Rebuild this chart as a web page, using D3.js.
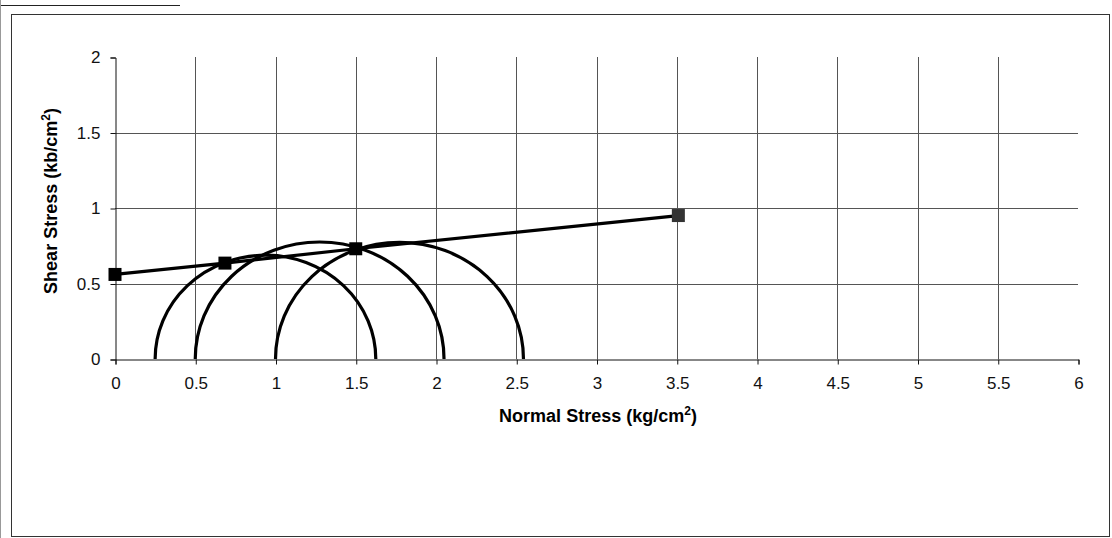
<!DOCTYPE html>
<html>
<head>
<meta charset="utf-8">
<script src="https://cdn.jsdelivr.net/npm/d3@7"></script>
<style>
  html, body { margin: 0; padding: 0; background: #fff; }
  svg { display: block; font-family: Arial, "Liberation Sans", sans-serif; }
</style>
</head>
<body>
<svg id="chart" width="1112" height="538"></svg>
<script>
// Failure envelope (normal stress, shear stress)
const envelopeSigma = [0, 0.685, 1.5, 3.51];
const envelopeTau = [0.56, 0.635, 0.73, 0.95];

// Mohr circles: minor and major principal stresses
const sigma3 = [0.25, 0.5, 1.0];
const sigma1 = [1.625, 2.05, 2.545];

// Axis ticks
const xTicks = [0, 0.5, 1, 1.5, 2, 2.5, 3, 3.5, 4, 4.5, 5, 5.5, 6];
const yTicks = [0, 0.5, 1, 1.5, 2];
const xTickLabels = ["0", "0.5", "1", "1.5", "2", "2.5", "3", "3.5", "4", "4.5", "5", "5.5", "6"];
const yTickLabels = ["0", "0.5", "1", "1.5", "2"];

const svg = d3.select("#chart");

const plotLeft = 115, plotRight = 1078, plotTop = 57, plotBottom = 359;
const x = d3.scaleLinear().domain([0, 6]).range([plotLeft, plotRight]);
const y = d3.scaleLinear().domain([0, 2]).range([plotBottom, plotTop]);

// Page frame
svg.append("line").attr("x1", 0).attr("x2", 180).attr("y1", 5.5).attr("y2", 5.5)
  .attr("stroke", "#222").attr("stroke-width", 1);
svg.append("line").attr("x1", 0.5).attr("x2", 0.5).attr("y1", 0).attr("y2", 538)
  .attr("stroke", "#999").attr("stroke-width", 1);
svg.append("rect").attr("x", 11.5).attr("y", 14.5).attr("width", 1098).attr("height", 522)
  .attr("fill", "none").attr("stroke", "#333").attr("stroke-width", 1);

// Gridlines
const grid = svg.append("g").attr("stroke", "#555").attr("stroke-width", 1);
grid.selectAll("line.h").data(yTicks.filter(v => v > 0 && v < 2)).enter().append("line")
  .attr("x1", plotLeft).attr("x2", plotRight)
  .attr("y1", d => Math.round(y(d)) + 0.5).attr("y2", d => Math.round(y(d)) + 0.5);
grid.selectAll("line.v").data(xTicks.filter(v => v > 0 && v < 6)).enter().append("line")
  .attr("y1", plotTop).attr("y2", plotBottom)
  .attr("x1", d => Math.round(x(d)) + 0.5).attr("x2", d => Math.round(x(d)) + 0.5);

// Axes
const xAxis = d3.axisBottom(x).tickValues(xTicks)
  .tickFormat((d, i) => xTickLabels[i]).tickSizeInner(5).tickSizeOuter(5).tickPadding(12);
const yAxis = d3.axisLeft(y).tickValues(yTicks)
  .tickFormat((d, i) => yTickLabels[i]).tickSizeInner(5).tickSizeOuter(5).tickPadding(10);

const gx = svg.append("g").attr("transform", `translate(0.5,${plotBottom + 0.5})`).call(xAxis);
const gy = svg.append("g").attr("transform", `translate(${plotLeft + 0.5},0.5)`).call(yAxis);
[gx, gy].forEach(g => {
  g.selectAll("path, line").attr("stroke", "#111");
  g.selectAll("text").attr("font-family", "Arial, 'Liberation Sans', sans-serif")
    .attr("font-size", 17).attr("fill", "#111");
});

// Mohr circles (upper halves)
const circles = svg.append("g").attr("fill", "none").attr("stroke", "#000").attr("stroke-width", 3.2);
sigma3.forEach((s3, i) => {
  const s1 = sigma1[i];
  const r = (s1 - s3) / 2;
  const rx = x(r) - x(0);
  const ry = y(0) - y(r);
  circles.append("path")
    .attr("d", `M${x(s3)},${y(0)} A${rx},${ry} 0 0 1 ${x(s1)},${y(0)}`);
});

// Failure envelope
const pts = envelopeSigma.map((s, i) => [s, envelopeTau[i]]);
svg.append("path").datum(pts)
  .attr("fill", "none").attr("stroke", "#000").attr("stroke-width", 3.2)
  .attr("d", d3.line().x(d => x(d[0])).y(d => y(d[1])));

const ms = 13;
svg.selectAll("rect.marker").data(pts).enter().append("rect")
  .attr("x", d => x(d[0]) - ms / 2).attr("y", d => y(d[1]) - ms / 2)
  .attr("width", ms).attr("height", ms)
  .attr("fill", (d, i) => i === pts.length - 1 ? "#333" : "#000");

// Axis titles
const xt = svg.append("text").attr("x", 598).attr("y", 422).attr("text-anchor", "middle")
  .attr("font-size", 18).attr("font-weight", "bold").attr("fill", "#000");
xt.append("tspan").text("Normal Stress (kg/cm");
xt.append("tspan").attr("font-size", 12).attr("dy", -7).text("2");
xt.append("tspan").attr("dy", 7).text(")");

const yt = svg.append("text").attr("transform", "translate(57,201) rotate(-90)")
  .attr("text-anchor", "middle")
  .attr("font-size", 18).attr("font-weight", "bold").attr("fill", "#000");
yt.append("tspan").text("Shear Stress (kb/cm");
yt.append("tspan").attr("font-size", 12).attr("dy", -7).text("2");
yt.append("tspan").attr("dy", 7).text(")");
</script>
</body>
</html>
